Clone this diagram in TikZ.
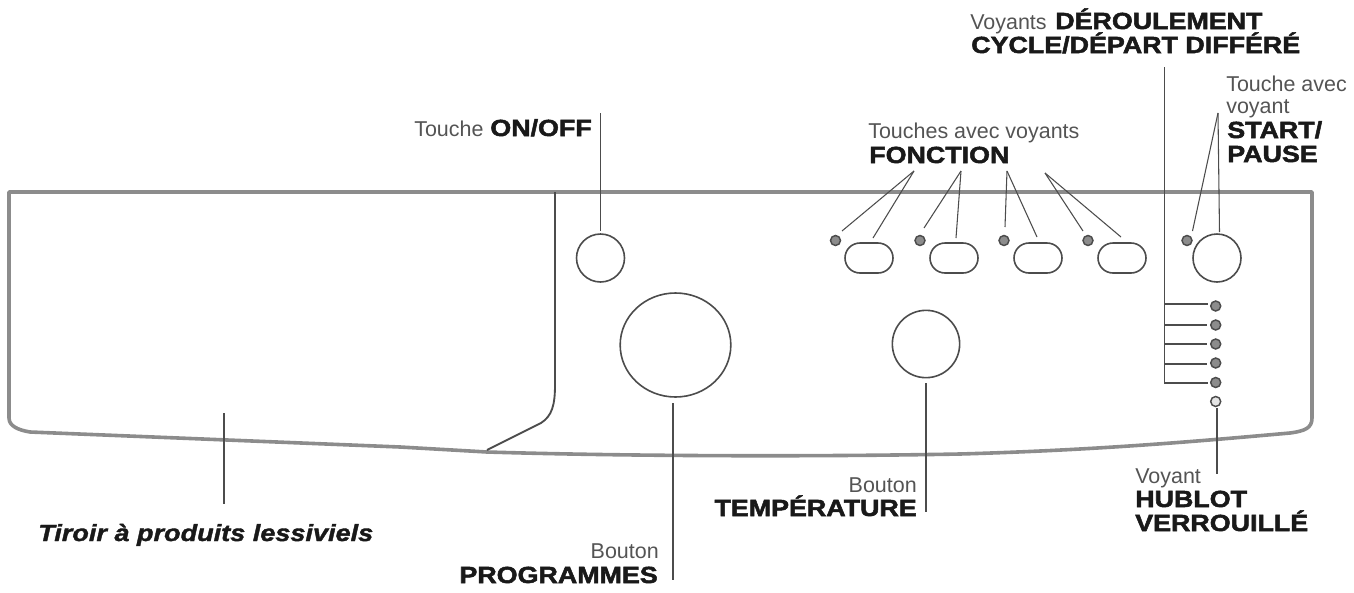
\documentclass[tikz,border=0pt]{standalone}
\usepackage{fontspec}
\setmainfont{Liberation Sans}
\newfontfamily\blkfont[FakeBold=2.2,FakeStretch=1.15]{Liberation Sans Bold}
\newfontfamily\blkit[FakeBold=1.6,FakeStretch=1.16]{Liberation Sans Bold Italic}
\usetikzlibrary{shapes.geometric,shapes.misc}
\definecolor{panelgray}{gray}{0.55}
\definecolor{linegray}{gray}{0.3}
\definecolor{textgray}{gray}{0.33}
\definecolor{blkgray}{gray}{0.1}
\tikzset{
  px/.style={x=0.75pt,y=-0.75pt},
  panelline/.style={draw=panelgray,line width=2.7pt,line join=round},
  drawerline/.style={draw=linegray,line width=1.4pt},
  leader/.style={draw=linegray,line width=0.8pt},
  knob/.style={circle,draw=linegray,line width=1.2pt,inner sep=0pt,fill=white},
  pill/.style={rounded rectangle,draw=linegray,line width=1.2pt,inner sep=0pt,minimum width=36pt,minimum height=22.5pt},
  led/.style={circle,draw=linegray,line width=1.1pt,fill=panelgray,inner sep=0pt,minimum size=7.5pt},
  ledoff/.style={led,fill=gray!20},
  lab/.style={anchor=base west,inner sep=0pt,text=textgray,font=\fontsize{16.1}{19}\selectfont},
  labr/.style={lab,anchor=base east},
  bold/.style={anchor=base west,inner sep=0pt,text=blkgray,font=\fontsize{17.5}{20}\selectfont\blkfont},
  boldr/.style={bold,anchor=base east},
}
\begin{document}
\begin{tikzpicture}[px]
\useasboundingbox (0,0) rectangle (1354,593);
% panel outline
\draw[panelline] (9,192) -- (1312,192) -- (1312,418)
  .. controls (1312,428) and (1305,431) .. (1290,433)
  .. controls (1200,441) and (1100,450) .. (960,454)
  .. controls (800,457) and (620,456) .. (487,452)
  -- (400,447) -- (30,432) .. controls (18,430) and (9,426) .. (9,418) -- cycle;
\draw[drawerline] (555,192) -- (555,385) .. controls (555,405) and (552,416) .. (541,423) -- (487,450);
% controls
\node[knob,minimum size=36pt] (onoff) at (600.5,258) {};
\node[knob,ellipse,minimum width=83pt,minimum height=78pt] (prog) at (675.5,345) {};
\node[knob,minimum size=50.5pt] (temp) at (926,344) {};
\node[pill] (p1) at (869,258) {};
\node[pill] (p2) at (954,258) {};
\node[pill] (p3) at (1038,258) {};
\node[pill] (p4) at (1122,258) {};
\node[led] (l1) at (835.5,240.5) {};
\node[led] (l2) at (920,240.5) {};
\node[led] (l3) at (1004,240.5) {};
\node[led] (l4) at (1088,240.5) {};
\node[led] (l5) at (1187,240.5) {};
\node[knob,minimum size=36pt] (start) at (1217,258) {};
\node[led] (d1) at (1215.7,306) {};
\node[led] (d2) at (1215.7,325) {};
\node[led] (d3) at (1215.7,344) {};
\node[led] (d4) at (1215.7,363) {};
\node[led] (d5) at (1215.7,382.5) {};
\node[ledoff] (d6) at (1215.7,401.5) {};
% free ends of the leaders
\coordinate (onofftop) at (600.5,113);
\coordinate (onoffend) at (600.5,231);
\coordinate (progtop) at (673,403);
\coordinate (progend) at (673,580);
\coordinate (temptop) at (926,383);
\coordinate (tempend) at (926,512);
\coordinate (hubtop) at (1217,408);
\coordinate (hubend) at (1217,474);
\coordinate (tirtop) at (224,413);
\coordinate (tirend) at (224,504);
\coordinate (f1) at (914,171);
\coordinate (f2) at (961,171);
\coordinate (f3) at (1007,171);
\coordinate (f4) at (1045,173);
\coordinate (st) at (1218,113);
\coordinate (busT) at (1164.5,67);
\coordinate (busB) at (1164.5,383);
% leaders
\draw[leader] (onofftop) -- (onoffend);
\draw[leader] (progtop) -- (progend);
\draw[leader] (temptop) -- (tempend);
\draw[leader] (hubtop) -- (hubend);
\draw[leader] (tirtop) -- (tirend);
\draw[leader] (f1) -- (842,231);
\draw[leader] (f1) -- (873,238);
\draw[leader] (f2) -- (924,228);
\draw[leader] (f2) -- (956,238);
\draw[leader] (f3) -- (1005,227);
\draw[leader] (f3) -- (1037,237);
\draw[leader] (f4) -- (1083,231);
\draw[leader] (f4) -- (1121,237);
\draw[leader] (st) -- (1192.5,231);
\draw[leader] (st) -- (1219.5,232);
\draw[leader] (busT) -- (busB) -- (1208,383);
\draw[leader] (1164.5,304) -- (1208,304);
\draw[leader] (1164.5,325) -- (1207,325);
\draw[leader] (1164.5,344) -- (1207,344);
\draw[leader] (1164.5,364) -- (1207,364);
% labels
\node[lab] (t1) at (970,29) {Voyants};
\node[bold] (t1b) at (1055,29) {DÉROULEMENT};
\node[bold] (t2) at (971,53) {CYCLE/DÉPART DIFFÉRÉ};
\node[lab] (t3) at (1226,91) {Touche avec};
\node[lab] (t4) at (1226,113) {voyant};
\node[bold] (t5) at (1227,138) {START/};
\node[bold] (t6) at (1227,162) {PAUSE};
\node[lab] (t7) at (868,138) {Touches avec voyants};
\node[bold] (t8) at (869,163) {FONCTION};
\node[lab] (t9) at (414,136) {Touche};
\node[boldr] (t10) at (592,136) {ON/OFF};
\node[labr] (t11) at (659,558) {Bouton};
\node[boldr] (t12) at (658,583) {PROGRAMMES};
\node[labr] (t13) at (917,492) {Bouton};
\node[boldr] (t14) at (917,516) {TEMPÉRATURE};
\node[lab] (t15) at (1135,483) {Voyant};
\node[bold] (t16) at (1135,507) {HUBLOT};
\node[bold] (t17) at (1135,531) {VERROUILLÉ};
\node[lab,text=blkgray,font=\fontsize{17.5}{20}\selectfont\blkit] (t18) at (38,541) {Tiroir à produits lessiviels};
\end{tikzpicture}
\end{document}
